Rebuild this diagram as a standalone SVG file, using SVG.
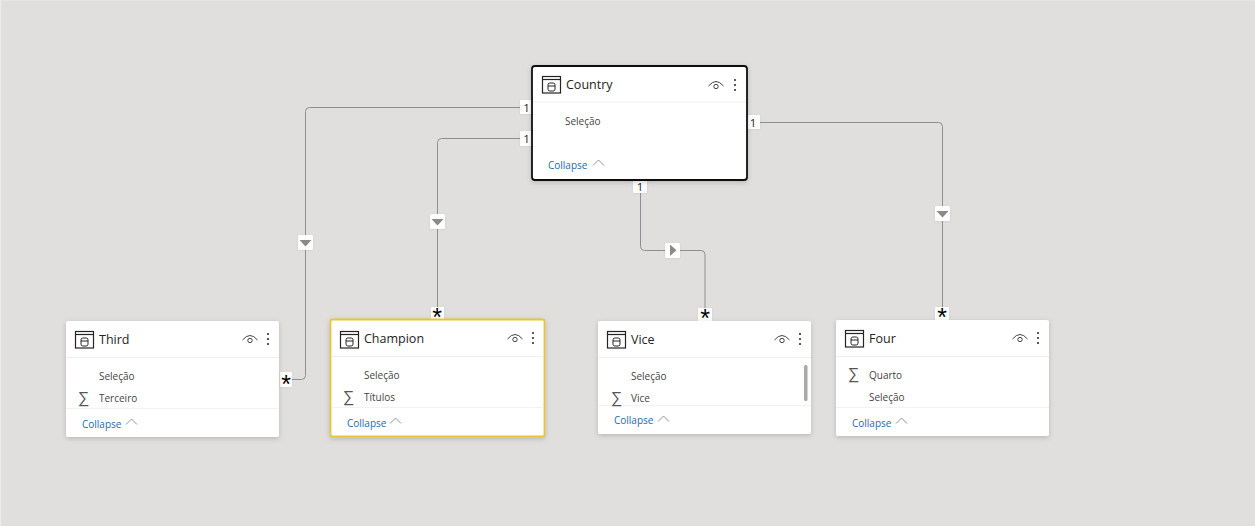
<svg xmlns="http://www.w3.org/2000/svg" width="1255" height="526" viewBox="0 0 1255 526">
<style>
text{font-family:"Open Sans","Noto Sans","Liberation Sans",sans-serif}
.t{font-size:12.5px;fill:#252423}
.f{font-size:10px;fill:#444}
.c{font-size:10px;fill:#1a6bb0}
.s{font-size:16px;fill:#555;font-family:"Liberation Sans",sans-serif}
.card{fill:#fff;filter:url(#sh)}
.sep{stroke:#f0efee;stroke-width:1;fill:none}
.ln{stroke:#8f8f8f;stroke-width:1;fill:none}
.bx{fill:#fff;filter:url(#sb)}
.n{font-size:11.5px;fill:#222;text-anchor:middle}
.st{font-size:25px;fill:#000;text-anchor:middle;font-family:"Liberation Sans",sans-serif}
.ar{fill:#8a8a8a}
</style>
<defs>
<filter id="sh" x="-10%" y="-10%" width="120%" height="125%"><feDropShadow dx="0" dy="1.5" stdDeviation="2.5" flood-color="#000" flood-opacity="0.18"/></filter>
<filter id="sb" x="-30%" y="-30%" width="160%" height="160%"><feDropShadow dx="0" dy="0.5" stdDeviation="0.8" flood-color="#000" flood-opacity="0.08"/></filter>
<g id="ti" fill="none" stroke="#252423">
<rect x="0.5" y="0.5" width="18" height="16.5" stroke-width="1.2"/>
<path d="M0.5 3.5H18.5" stroke-width="1.2"/>
<rect x="6" y="7" width="7" height="8" rx="1.8" stroke-width="1"/>
<path d="M6 10H13" stroke-width="1"/>
</g>
<g id="eye" fill="none" stroke="#444">
<path d="M-0.500 6Q7-3 14.500 6" stroke-width="1"/>
<circle cx="7" cy="6.500" r="2.200" stroke-width="1"/>
</g>
<g id="dots" fill="#333">
<circle cx="0" cy="0" r="1.100"/><circle cx="0" cy="5" r="1.100"/><circle cx="0" cy="10" r="1.100"/>
</g>
<path id="chev" d="M0 5.500L5.500 0L11 5.500" fill="none" stroke="#7d8a96" stroke-width="0.9"/>
</defs>
<rect width="1255" height="526" fill="#e0dfdd"/>
<path d="M0 0H1255M0.500 0V526" stroke="#ececeb" stroke-width="1" fill="none"/>

<g id="connectors">
<path class="ln" d="M532 107.500H309.500Q305.500 107.500 305.500 111.500V375.500Q305.500 379.500 301.500 379.500H280"/>
<path class="ln" d="M532 138.500H441.500Q437.500 138.500 437.500 142.500V320"/>
<path class="ln" d="M640.500 180V246.500Q640.500 250.500 644.500 250.500H701Q705 250.500 705 254.500V321" stroke-width="1.200"/>
<path class="ln" d="M747 122.500H938.500Q942.500 122.500 942.500 126.500V320"/>

<rect class="bx" x="298" y="235" width="15" height="15" rx="1.500"/><path class="ar" d="M299.500 240H311.500L305.500 246.500Z"/>
<rect class="bx" x="430" y="214" width="15" height="15" rx="1.500"/><path class="ar" d="M431.500 219H443.500L437.500 225.500Z"/>
<rect class="bx" x="665" y="243" width="15" height="15" rx="1.500"/><path class="ar" d="M670 244.500V256L676.500 250.300Z"/>
<rect class="bx" x="935" y="206" width="15" height="15" rx="1.500"/><path class="ar" d="M936.500 211H948.500L942.500 217.500Z"/>

<rect class="bx" x="520" y="100" width="12" height="14"/><text class="n" x="526.500" y="111.500">1</text>
<rect class="bx" x="520" y="131" width="12" height="15"/><text class="n" x="526.500" y="143">1</text>
<rect class="bx" x="747" y="115" width="13" height="14"/><text class="n" x="753" y="127">1</text>
<rect class="bx" x="633" y="180" width="14" height="13"/><text class="n" x="640" y="190.500">1</text>

<rect class="bx" x="280" y="372" width="12" height="15"/><text class="st" x="286" y="393">*</text>
<rect class="bx" x="431" y="307" width="13" height="12"/><text class="st" x="437" y="326">*</text>
<rect class="bx" x="698" y="308" width="14" height="13"/><text class="st" x="705" y="327">*</text>
<rect class="bx" x="935" y="307" width="14" height="13"/><text class="st" x="942" y="326">*</text>
</g>

<g id="country">
<rect class="card" x="532" y="66" width="215" height="114" rx="3" stroke="#111" stroke-width="1.800"/>
<path class="sep" d="M533 102H746"/>
<use href="#ti" x="542" y="76"/>
<text class="t" x="566" y="89">Country</text>
<use href="#eye" x="709" y="80"/>
<use href="#dots" x="735" y="80"/>
<text class="f" x="565" y="125">Seleção</text>
<text class="c" x="548" y="169">Collapse</text>
<use href="#chev" x="593" y="160"/>
</g>

<g id="third">
<rect class="card" x="66" y="321" width="213" height="116" rx="2"/>
<path class="sep" d="M66 357.500H279"/>
<path d="M66 408.500H279" stroke="#f3f2f1" fill="none"/>
<use href="#ti" x="75" y="331"/>
<text class="t" x="99" y="344">Third</text>
<use href="#eye" x="243" y="334"/>
<use href="#dots" x="268" y="334"/>
<text class="f" x="99" y="380">Seleção</text>
<text class="s" x="78" y="403">∑</text>
<text class="f" x="99" y="402">Terceiro</text>
<text class="c" x="82" y="428">Collapse</text>
<use href="#chev" x="126" y="419"/>
</g>

<g id="champion">
<rect class="card" x="330.500" y="319.500" width="214" height="117" rx="2" stroke="#e8c43a" stroke-width="1.800"/>
<path class="sep" d="M332 356.500H543"/>
<path d="M332 407.500H543" stroke="#f3f2f1" fill="none"/>
<use href="#ti" x="340" y="331"/>
<text class="t" x="364" y="343">Champion</text>
<use href="#eye" x="508" y="333"/>
<use href="#dots" x="533" y="333"/>
<text class="f" x="364" y="379">Seleção</text>
<text class="s" x="343" y="402">∑</text>
<text class="f" x="364" y="401">Títulos</text>
<text class="c" x="347" y="427">Collapse</text>
<use href="#chev" x="390" y="418"/>
</g>

<g id="vice">
<rect class="card" x="598" y="321" width="213" height="113" rx="2"/>
<path class="sep" d="M598 357.500H811"/>
<path d="M598 405.500H811" stroke="#f3f2f1" fill="none"/>
<use href="#ti" x="607" y="331"/>
<text class="t" x="631" y="344">Vice</text>
<use href="#eye" x="775" y="334"/>
<use href="#dots" x="800" y="334"/>
<text class="f" x="631" y="380">Seleção</text>
<text class="s" x="611" y="403">∑</text>
<text class="f" x="631" y="402">Vice</text>
<rect x="804" y="365" width="3.500" height="36" rx="1.500" fill="#aaa"/>
<text class="c" x="614" y="424">Collapse</text>
<use href="#chev" x="658" y="416"/>
</g>

<g id="four">
<rect class="card" x="836" y="320" width="213" height="116" rx="2"/>
<path class="sep" d="M836 356.500H1049"/>
<path d="M836 407.500H1049" stroke="#f3f2f1" fill="none"/>
<use href="#ti" x="845" y="330"/>
<text class="t" x="869" y="343">Four</text>
<use href="#eye" x="1013" y="333"/>
<use href="#dots" x="1038" y="333"/>
<text class="s" x="848" y="379">∑</text>
<text class="f" x="869" y="379">Quarto</text>
<text class="f" x="869" y="401">Seleção</text>
<text class="c" x="852" y="427">Collapse</text>
<use href="#chev" x="896" y="418"/>
</g>
</svg>
